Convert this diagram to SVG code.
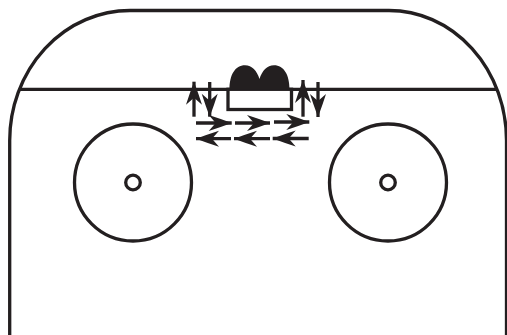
<svg xmlns="http://www.w3.org/2000/svg" width="507" height="335" viewBox="0 0 507 335">
<style>
.o{fill:none;stroke:#231f20;stroke-width:3.300}
.a{fill:none;stroke:#231f20;stroke-width:3.300;marker-end:url(#h)}
</style>
<defs>
<marker id="h" markerUnits="userSpaceOnUse" markerWidth="26" markerHeight="18" refX="24" refY="8" orient="auto" overflow="visible">
<path d="M24 8Q12 3.500 1 0L8 8L1 16Q12 12.500 24 8Z" fill="#231f20"/>
</marker>
</defs>
<rect width="507" height="335" fill="#fff"/>
<g id="outline"><path class="o" d="M9.700 335V140.500A120.300 130 0 0 1 130 10.500H389A117.500 130 0 0 1 506.500 140.500V335"/></g>
<g id="line"><path class="o" d="M20 89.300H497"/></g>
<g id="circle-left"><circle class="o" cx="133" cy="182.500" r="58.500"/><circle class="o" cx="133" cy="182.500" r="7.300"/></g>
<g id="circle-right"><circle class="o" cx="388" cy="182.500" r="58.500"/><circle class="o" cx="388" cy="182.500" r="7.300"/></g>
<g id="goal">
<rect x="228" y="89.300" width="63.500" height="20.200" fill="#fff" stroke="#231f20" stroke-width="3.300"/>
<path d="M229.500 89.300C229.500 75 235 65.300 245 65.300C252 65.300 257 71 259.500 79C262 71 267 65.300 274 65.300C284 65.300 289.500 75 289.500 89.300Z" fill="#231f20"/>
</g>
<g id="connectors">
<path class="a" d="M194 116.700V81.700"/>
<path class="a" d="M209.700 82V116.700"/>
<path class="a" d="M303 116.700V80"/>
<path class="a" d="M318 82V117"/>
<path class="a" d="M196 123H231.700"/>
<path class="a" d="M235 123H270"/>
<path class="a" d="M274 122H309.300"/>
<path class="a" d="M231 138.700H196"/>
<path class="a" d="M270 138.700H234"/>
<path class="a" d="M308.700 138.500H272.700"/>
</g>
</svg>
